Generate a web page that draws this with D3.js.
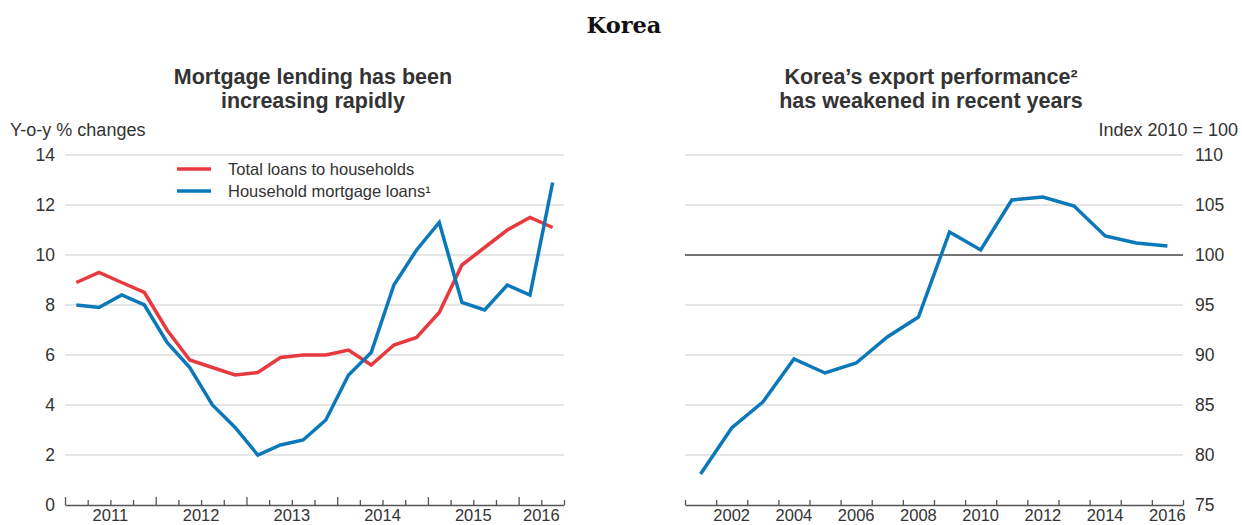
<!DOCTYPE html>
<html>
<head>
<meta charset="utf-8">
<script src="https://cdn.jsdelivr.net/npm/d3@7"></script>
<style>
  body { margin: 0; background: #fff; }
  svg { display: block; font-family: "Liberation Sans", Arial, sans-serif; }
</style>
</head>
<body>
<div id="chart"></div>
<script>
// left panel: quarterly data 2011Q1 - 2016Q2
const quarters = ['2011Q1','2011Q2','2011Q3','2011Q4','2012Q1','2012Q2','2012Q3','2012Q4',
    '2013Q1','2013Q2','2013Q3','2013Q4','2014Q1','2014Q2','2014Q3','2014Q4',
    '2015Q1','2015Q2','2015Q3','2015Q4','2016Q1','2016Q2'];
const totalLoans = [8.9, 9.3, 8.9, 8.5, 7.0, 5.8, 5.5, 5.2, 5.3, 5.9, 6.0, 6.0,
    6.2, 5.6, 6.4, 6.7, 7.7, 9.6, 10.3, 11.0, 11.5, 11.1];
const mortgageLoans = [8.0, 7.9, 8.4, 8.0, 6.5, 5.5, 4.0, 3.1, 2.0, 2.4, 2.6, 3.4,
    5.2, 6.1, 8.8, 10.2, 11.3, 8.1, 7.8, 8.8, 8.4, 12.9];
const loanYears = [2011, 2012, 2013, 2014, 2015, 2016];
const leftTicks = [0, 2, 4, 6, 8, 10, 12, 14];

// right panel: annual export performance index
const exportYears = [2001, 2002, 2003, 2004, 2005, 2006, 2007, 2008,
    2009, 2010, 2011, 2012, 2013, 2014, 2015, 2016];
const exportIndex = [78.1, 82.7, 85.3, 89.6, 88.2, 89.2, 91.8, 93.8,
    102.3, 100.5, 105.5, 105.8, 104.9, 101.9, 101.2, 100.9];
const exportLabelYears = [2002, 2004, 2006, 2008, 2010, 2012, 2014, 2016];
const rightTicks = [75, 80, 85, 90, 95, 100, 105, 110];

const width = 1242;
const height = 525;
const red = '#e8393f';
const blue = '#0a78b9';
const textColor = '#333';

const svg = d3.select('#chart').append('svg')
    .attr('width', width)
    .attr('height', height);

svg.append('text')
    .attr('x', 624).attr('y', 33)
    .attr('text-anchor', 'middle')
    .attr('font-family', '"DejaVu Serif", serif')
    .attr('font-weight', 'bold')
    .attr('font-size', 22.5)
    .attr('fill', '#111')
    .text('Korea');

function title(cx, lines) {
    lines.forEach((t, i) => {
        svg.append('text')
            .attr('x', cx).attr('y', 84 + i * 24)
            .attr('text-anchor', 'middle')
            .attr('font-weight', 'bold')
            .attr('font-size', 21.5)
            .attr('fill', textColor)
            .text(t);
    });
}
title(313, ['Mortgage lending has been', 'increasing rapidly']);
title(931, ['Korea\u2019s export performance\u00b2', 'has weakened in recent years']);

const plotTop = 155, plotBottom = 505;

// ---------- left panel ----------
const x1 = d3.scaleLinear().domain([0, quarters.length]).range([65, 564]);
const y1 = d3.scaleLinear().domain([0, 14]).range([plotBottom, plotTop]);

const left = svg.append('g');

left.selectAll('line.grid')
    .data(leftTicks.filter(d => d > 0))
    .enter().append('line')
    .attr('x1', x1.range()[0]).attr('x2', x1.range()[1])
    .attr('y1', d => y1(d)).attr('y2', d => y1(d))
    .attr('stroke', '#dcdcdc').attr('stroke-width', 1.5);

left.selectAll('text.ytick')
    .data(leftTicks)
    .enter().append('text')
    .attr('x', 55).attr('y', d => y1(d) + 6)
    .attr('text-anchor', 'end')
    .attr('font-size', 17.5)
    .attr('fill', textColor)
    .text(d => d);

left.append('text')
    .attr('x', 10).attr('y', 136)
    .attr('font-size', 18)
    .attr('fill', textColor)
    .text('Y-o-y % changes');

// x axis with quarter ticks, longer ticks at year boundaries
const qTicks = d3.range(0, quarters.length + 1);
const xAxis1 = d3.axisBottom(x1).tickValues(qTicks).tickSize(0).tickFormat('');
const ax1 = left.append('g').attr('transform', `translate(0,${plotBottom})`).call(xAxis1);
ax1.select('.domain').attr('stroke', '#555').attr('stroke-width', 1.5);
ax1.selectAll('.tick line')
    .attr('y2', d => d % 4 === 0 ? -8 : -5)
    .attr('stroke', '#555').attr('stroke-width', 1.3);

left.selectAll('text.xlab')
    .data(loanYears)
    .enter().append('text')
    .attr('x', (d, i) => {
        const start = i * 4;
        const end = Math.min(start + 4, quarters.length);
        return x1((start + end) / 2);
    })
    .attr('y', 521)
    .attr('text-anchor', 'middle')
    .attr('font-size', 16.5)
    .attr('fill', textColor)
    .text(d => d);

const line1 = d3.line()
    .x((d, i) => x1(i + 0.5))
    .y(d => y1(d));

left.append('path')
    .datum(totalLoans)
    .attr('d', line1)
    .attr('fill', 'none').attr('stroke', red).attr('stroke-width', 3.5)
    .attr('stroke-linejoin', 'miter');

left.append('path')
    .datum(mortgageLoans)
    .attr('d', line1)
    .attr('fill', 'none').attr('stroke', blue).attr('stroke-width', 3.5)
    .attr('stroke-linejoin', 'miter');

const legend = [
    {name: 'Total loans to households', color: red},
    {name: 'Household mortgage loans\u00b9', color: blue}
];
const lg = left.selectAll('g.legend')
    .data(legend)
    .enter().append('g')
    .attr('transform', (d, i) => `translate(177,${169 + i * 22})`);
lg.append('line')
    .attr('x1', 0).attr('x2', 34)
    .attr('stroke', d => d.color).attr('stroke-width', 3.5);
lg.append('text')
    .attr('x', 51).attr('y', 5.5)
    .attr('font-size', 16.5)
    .attr('fill', textColor)
    .text(d => d.name);

// ---------- right panel ----------
const x2 = d3.scaleLinear().domain([exportYears[0], exportYears[exportYears.length - 1] + 1]).range([685, 1183]);
const y2 = d3.scaleLinear().domain([75, 110]).range([plotBottom, plotTop]);

const right = svg.append('g');

right.selectAll('line.grid')
    .data(rightTicks.filter(d => d > 75 && d !== 100))
    .enter().append('line')
    .attr('x1', x2.range()[0]).attr('x2', x2.range()[1])
    .attr('y1', d => y2(d)).attr('y2', d => y2(d))
    .attr('stroke', '#dcdcdc').attr('stroke-width', 1.5);

right.append('line')
    .attr('x1', x2.range()[0]).attr('x2', x2.range()[1])
    .attr('y1', y2(100)).attr('y2', y2(100))
    .attr('stroke', '#444').attr('stroke-width', 1.3);

right.selectAll('text.ytick')
    .data(rightTicks)
    .enter().append('text')
    .attr('x', 1195).attr('y', d => y2(d) + 6)
    .attr('font-size', 17.5)
    .attr('fill', textColor)
    .text(d => d);

right.append('text')
    .attr('x', 1238).attr('y', 136)
    .attr('text-anchor', 'end')
    .attr('font-size', 18)
    .attr('fill', textColor)
    .text('Index 2010 = 100');

const yTicks2 = d3.range(exportYears[0], exportYears[exportYears.length - 1] + 2);
const xAxis2 = d3.axisBottom(x2).tickValues(yTicks2).tickSize(0).tickFormat('');
const ax2 = right.append('g').attr('transform', `translate(0,${plotBottom})`).call(xAxis2);
ax2.select('.domain').attr('stroke', '#555').attr('stroke-width', 1.5);
ax2.selectAll('.tick line')
    .attr('y2', -5)
    .attr('stroke', '#555').attr('stroke-width', 1.3);

right.selectAll('text.xlab')
    .data(exportLabelYears)
    .enter().append('text')
    .attr('x', d => x2(d + 0.5))
    .attr('y', 521)
    .attr('text-anchor', 'middle')
    .attr('font-size', 16.5)
    .attr('fill', textColor)
    .text(d => d);

const line2 = d3.line()
    .x((d, i) => x2(exportYears[i] + 0.5))
    .y(d => y2(d));

right.append('path')
    .datum(exportIndex)
    .attr('d', line2)
    .attr('fill', 'none').attr('stroke', blue).attr('stroke-width', 3.5)
    .attr('stroke-linejoin', 'miter');
</script>
</body>
</html>
